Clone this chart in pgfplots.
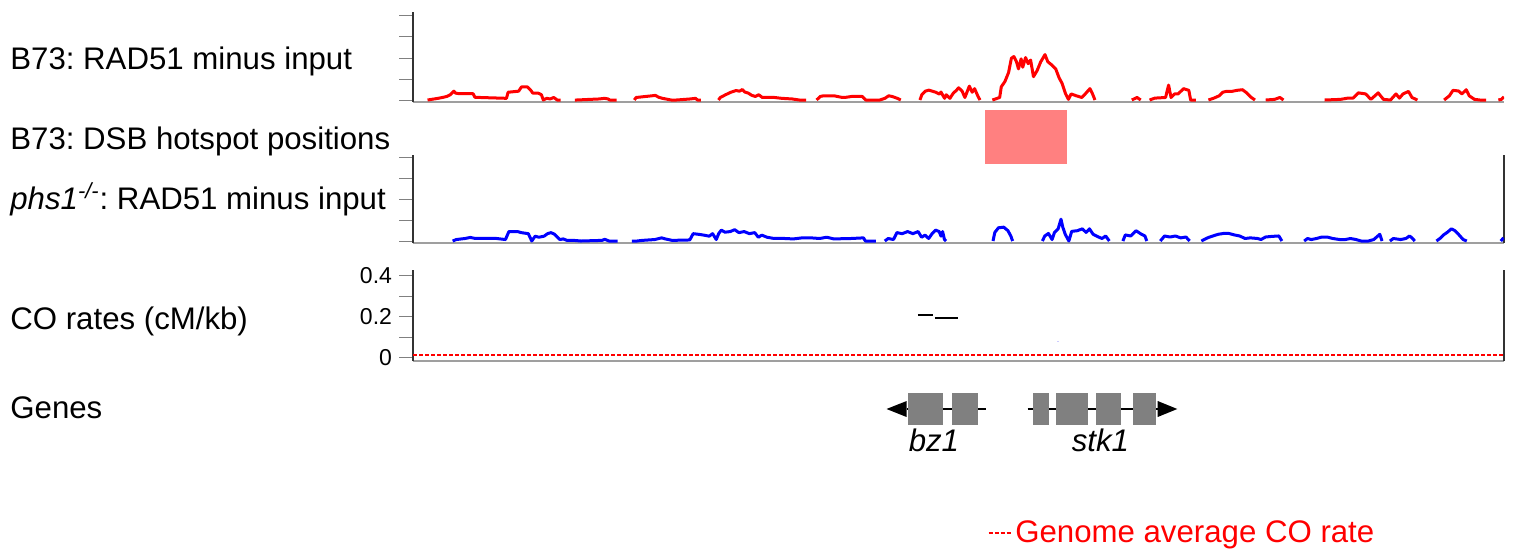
\documentclass[border=0pt]{standalone}
\usepackage{fontspec}
\setmainfont{Liberation Sans}
\usepackage{pgfplots}
\pgfplotsset{compat=1.18}
\frenchspacing

\definecolor{hotspot}{HTML}{FF8080}
\definecolor{exon}{HTML}{808080}
\definecolor{axisdark}{HTML}{333333}
\definecolor{avgred}{HTML}{FF0000}

\newcommand{\labelfont}{\fontsize{15.6bp}{18bp}\selectfont}
\newcommand{\tickfont}{\fontsize{11.5bp}{13bp}\selectfont}

\tikzset{average/.style={draw=avgred, color=avgred, line width=0.7bp, dash pattern=on 2bp off 1bp}}

\pgfplotsset{
  region/.style={
    scale only axis, width=545.5bp,
    xmin=-2.05, xmax=51.88,
    anchor=south west,
  },
  track/.style={
    region,
    separate axis lines,
    axis x line*=bottom,
    x axis line style={draw=gray!75, line width=0.6bp, -},
    y axis line style={draw=axisdark, line width=1bp, -},
    tick align=outside,
    xtick=\empty,
    minor xtick={0,10,20,30,40,50},
    minor tick length=3.2bp,
    major tick length=7bp,
    xtick style={draw=black, line width=0.7bp},
    ytick style={draw=gray, line width=0.5bp},
    tick label style={font=\tickfont},
    /pgf/number format/assume math mode=true,
  },
  signal/.style={line width=1.5bp, line join=round, unbounded coords=jump},
}

\begin{document}
\begin{tikzpicture}
\useasboundingbox (0,0) rectangle (757.5bp,-276bp);

% track labels
\node[anchor=base west, font=\labelfont, inner sep=0pt] at (5bp,-34.5bp) {B73: RAD51 minus input};
\node[anchor=base west, font=\labelfont, inner sep=0pt] at (5bp,-74.5bp) {B73: DSB hotspot positions};
\node[anchor=base west, font=\labelfont, inner sep=0pt] at (5bp,-104.5bp) {\textit{phs1}\textsuperscript{\textit{-/-}}: RAD51 minus input};
\node[anchor=base west, font=\labelfont, inner sep=0pt] at (5bp,-164.5bp) {CO rates (cM/kb)};
\node[anchor=base west, font=\labelfont, inner sep=0pt] at (5bp,-209bp) {Genes};

% B73 RAD51 ChIP signal
\begin{axis}[track, axis y line*=left, at={(206.5bp,-51bp)}, height=45bp,
  ymin=-0.095, ymax=4.19, ytick={0,1,2,3,4}, yticklabels={}]
\addplot[red, signal] coordinates {
(-1.33,0) (-0.81,0.08) (-0.55,0.13) (-0.38,0.17) (-0.21,0.25) (-0.03,0.42) (0.05,0.33) (0.23,0.30) (0.92,0.30) (1.01,0.13) (1.27,0.12) (2.57,0.08) (2.65,0.37) (3.17,0.42) (3.31,0.62) (3.61,0.62) (3.78,0.45) (3.87,0.33) (4.13,0.33) (4.30,0.25) (4.39,0) (4.56,0.08) (4.73,0.05) (4.91,0.12) (5.08,0) (5.25,0)
(5.6,nan)
(5.95,0) (6.03,0) (7.16,0.05) (7.42,0.08) (7.59,0.05) (7.68,0) (8.02,0)
(8.4,nan)
(8.89,0) (8.98,0.12) (9.76,0.20) (9.93,0.22) (10.10,0.13) (10.28,0.08) (10.71,0) (10.97,0) (11.66,0.05) (11.92,0.08) (12.01,0) (12.18,0)
(12.6,nan)
(13.05,0) (13.14,0.12) (13.40,0.25) (13.66,0.37) (13.92,0.45) (14.09,0.42) (14.23,0.50) (14.35,0.38) (14.52,0.33) (14.70,0.22) (14.87,0.17) (15.04,0.25) (15.22,0.12) (15.82,0.12) (16.17,0.08) (16.69,0.05) (17.04,0) (17.38,0)
(17.6,nan)
(17.90,0) (18.08,0.17) (18.25,0.20) (18.77,0.20) (19.12,0.13) (19.29,0.12) (19.64,0.17) (20.16,0.17) (20.33,0) (21.02,0) (21.28,0.08) (21.46,0.20) (21.63,0.17) (21.89,0.08) (22.06,0)
(22.5,nan)
(23.01,0) (23.10,0.25) (23.27,0.42) (23.45,0.47) (23.79,0.37) (23.97,0.28) (24.05,0.38) (24.14,0.22) (24.23,0.08) (24.31,0.25) (24.49,0.08) (24.66,0.33) (24.80,0.45) (24.92,0.58) (25.09,0.43) (25.23,0.12) (25.45,0.66) (25.59,0.37) (25.71,0.54) (25.89,0.15) (25.98,0)
(26.3,nan)
(26.59,0) (26.95,0.12) (27.03,0.63) (27.21,0.88) (27.39,1.31) (27.53,1.99) (27.65,2.07) (27.78,1.82) (27.88,1.48) (28.01,1.96) (28.09,1.56) (28.23,2.02) (28.36,1.73) (28.48,1.90) (28.62,1.11) (28.80,1.40) (28.98,1.82) (29.19,2.16) (29.33,1.82) (29.51,1.68) (29.72,1.48) (29.89,1.05) (30.03,0.80) (30.21,0.29) (30.35,0.03) (30.48,0.29) (30.74,0.20) (31.01,0.12) (31.18,0.29) (31.41,0.54) (31.54,0.29) (31.66,0)
(32.5,nan)
(33.48,0) (33.74,0.12) (33.92,0)
(34.1,nan)
(34.36,0) (34.62,0.09) (35.15,0.12) (35.30,0.71) (35.42,0.12) (35.60,0.29) (35.77,0.29) (36.04,0.54) (36.30,0.46) (36.39,0) (36.65,0)
(37.0,nan)
(37.27,0) (37.54,0.09) (37.80,0.20) (37.98,0.37) (38.15,0.41) (38.42,0.41) (38.68,0.46) (38.95,0.49) (39.12,0.37) (39.39,0.12) (39.57,0)
(39.8,nan)
(40.10,0) (40.54,0.03) (40.80,0.12) (40.98,0)
(42.0,nan)
(43.01,0) (43.80,0.03) (44.16,0.09) (44.42,0.09) (44.68,0.34) (45.04,0.29) (45.30,0.03) (45.66,0.34) (45.92,0.03) (46.27,0) (46.54,0.29) (46.71,0.09) (46.89,0.29) (47.16,0.41) (47.33,0.12) (47.60,0)
(48.2,nan)
(48.92,0) (49.18,0.20) (49.36,0.46) (49.63,0.43) (49.80,0.29) (50.01,0.49) (50.16,0.20) (50.42,0.03) (50.69,0) (51.0,0)
(51.3,nan)
(51.6,0) (51.75,0.03) (51.88,0.15)
};
\end{axis}

% DSB hotspot
\begin{axis}[region, hide axis, at={(206.5bp,-82bp)}, height=27bp, ymin=0, ymax=1]
\addplot[fill=hotspot, draw=none] coordinates {(26.22,1) (30.28,1)} \closedcycle;
\end{axis}

% phs1 RAD51 ChIP signal
\begin{axis}[track, axis y line*=box, ytick pos=left, at={(206.5bp,-121.5bp)}, height=44bp,
  ymin=-0.095, ymax=4.1, ytick={0,1,2,3,4}, yticklabels={}]
\addplot[blue, signal] coordinates {
(-0.09,0) (0.09,0.07) (0.52,0.12) (0.78,0.17) (1.04,0.12) (2.08,0.12) (2.52,0.07) (2.69,0.45) (3.12,0.45) (3.30,0.40) (3.65,0.35) (3.82,0) (3.99,0.23) (4.17,0.18) (4.43,0.23) (4.60,0.35) (4.77,0.40) (4.95,0.32) (5.21,0.07) (5.38,0.10) (5.56,0.03) (5.90,0.03) (6.25,0) (7.29,0.03) (7.43,0.08) (7.64,0) (8.07,0)
(8.4,nan)
(8.77,0) (9.03,0) (9.29,0.03) (9.90,0.07) (10.24,0.15) (10.42,0.10) (10.76,0.03) (11.63,0.05) (11.80,0.35) (12.06,0.32) (12.33,0.28) (12.59,0.23) (12.76,0.35) (12.94,0.07) (13.06,0.35) (13.19,0.52) (13.37,0.42) (13.63,0.45) (13.85,0.54) (14.06,0.40) (14.32,0.45) (14.58,0.35) (14.84,0.40) (15.02,0.18) (15.19,0.28) (15.45,0.18) (15.80,0.12) (16.32,0.12) (16.75,0.10) (17.19,0.15) (17.62,0.15) (18.05,0.12) (18.40,0.18) (18.75,0.10) (19.62,0.12) (20.22,0.15) (20.31,0) (20.83,0)
(21.05,nan)
(21.27,0) (21.44,0.12) (21.70,0.07) (21.87,0.40) (22.13,0.35) (22.40,0.45) (22.66,0.35) (22.92,0.45) (23.09,0.18) (23.26,0.28) (23.44,0.12) (23.61,0.35) (23.78,0.52) (23.96,0.45) (24.05,0.23) (24.13,0.45) (24.22,0.07) (24.30,0)
(25.5,nan)
(26.62,0) (26.71,0.41) (26.89,0.63) (27.15,0.66) (27.36,0.49) (27.50,0.24) (27.59,0)
(28.3,nan)
(29.06,0) (29.18,0.24) (29.36,0.36) (29.54,0.07) (29.66,0.41) (29.84,0.58) (29.98,1.04) (30.07,0.66) (30.19,0.32) (30.37,0) (30.51,0.46) (30.78,0.49) (31.04,0.58) (31.22,0.41) (31.39,0.58) (31.57,0.32) (31.84,0.19) (32.01,0.12) (32.19,0.24) (32.37,0)
(32.7,nan)
(33.04,0) (33.16,0.29) (33.43,0.24) (33.69,0.49) (33.96,0.32) (34.13,0.24) (34.22,0)
(34.5,nan)
(34.89,0) (35.10,0.24) (35.37,0.19) (35.63,0.24) (35.90,0.15) (36.16,0.19) (36.34,0)
(36.6,nan)
(36.92,0) (37.22,0.15) (37.49,0.24) (37.75,0.32) (38.02,0.36) (38.28,0.36) (38.55,0.29) (38.81,0.24) (39.08,0.12) (39.34,0.15) (39.70,0.12) (39.87,0.07) (40.09,0.19) (40.40,0.22) (40.75,0.24) (40.90,0)
(41.5,nan)
(42.00,0) (42.17,0.12) (42.35,0.07) (42.61,0.12) (42.88,0.19) (43.14,0.19) (43.41,0.12) (43.76,0.07) (44.03,0.07) (44.29,0.12) (44.56,0.07) (44.82,0) (45.18,0) (45.44,0.07) (45.74,0.32) (45.85,0)
(46.0,nan)
(46.24,0) (46.41,0.12) (46.77,0.07) (47.03,0.12) (47.21,0.24) (47.33,0.15) (47.47,0)
(48.0,nan)
(48.54,0) (48.71,0.12) (48.89,0.29) (49.07,0.41) (49.28,0.58) (49.46,0.49) (49.63,0.32) (49.86,0.07) (50.04,0)
(51.0,nan)
(51.72,0) (51.86,0.15)
};
\end{axis}

% crossover rates
\begin{axis}[track, axis y line*=box, ytick pos=left, at={(206.5bp,-180.5bp)}, height=45.5bp,
  clip=false,
  ymin=-0.017, ymax=0.429, ytick={0,0.1,0.2,0.3,0.4}, yticklabels={0,,0.2,,0.4},
  legend style={at={(0.527,-1.89)}, anchor=west, draw=none, fill=none,
    inner sep=0pt, outer sep=0pt, font=\labelfont, text=avgred},
  legend image code/.code={\draw[average] (0bp,0bp) -- (11bp,0bp);}]
\addplot[black, line width=1bp, forget plot] coordinates {(22.91,0.21) (23.65,0.21)};
\addplot[black, line width=1bp, forget plot] coordinates {(23.75,0.195) (24.89,0.195)};
\addplot[blue!20, line width=0.6bp, forget plot] coordinates {(29.80,0.08) (29.88,0.08)};
% genome-wide mean crossover rate
\addplot[average] coordinates {(-2.05,0.012) (51.88,0.012)};
\addlegendentry{Genome average CO rate}
\end{axis}

% gene models
\begin{axis}[region, hide axis, clip=false, at={(206.5bp,-220.5bp)}, height=32bp, ymin=-2, ymax=2]
% introns
\addplot[black, line width=0.6bp] coordinates {(22.35,0) (26.26,0)};
\addplot[black, line width=0.6bp] coordinates {(28.33,0) (34.76,0)};
% strand arrows
\addplot[fill=black, draw=none] coordinates {(22.35,0.5) (22.35,-0.5) (21.36,0)} -- cycle;
\addplot[fill=black, draw=none] coordinates {(34.76,0.5) (34.76,-0.5) (35.73,0)} -- cycle;
% exons
\addplot[fill=exon, draw=none] coordinates {(22.40,-0.98) (24.13,-0.98) (24.13,0.98) (22.40,0.98)} -- cycle;
\addplot[fill=exon, draw=none] coordinates {(24.59,-0.98) (25.89,-0.98) (25.89,0.98) (24.59,0.98)} -- cycle;
\addplot[fill=exon, draw=none] coordinates {(28.58,-0.98) (29.40,-0.98) (29.40,0.98) (28.58,0.98)} -- cycle;
\addplot[fill=exon, draw=none] coordinates {(29.72,-0.98) (31.30,-0.98) (31.30,0.98) (29.72,0.98)} -- cycle;
\addplot[fill=exon, draw=none] coordinates {(31.71,-0.98) (32.95,-0.98) (32.95,0.98) (31.71,0.98)} -- cycle;
\addplot[fill=exon, draw=none] coordinates {(33.52,-0.98) (34.68,-0.98) (34.68,0.98) (33.52,0.98)} -- cycle;
\node[anchor=base, font=\labelfont\itshape, inner sep=0pt] at (axis cs:23.70,-2.67) {bz1};
\node[anchor=base, font=\labelfont\itshape, inner sep=0pt] at (axis cs:31.93,-2.67) {stk1};
\end{axis}
\end{tikzpicture}
\end{document}
